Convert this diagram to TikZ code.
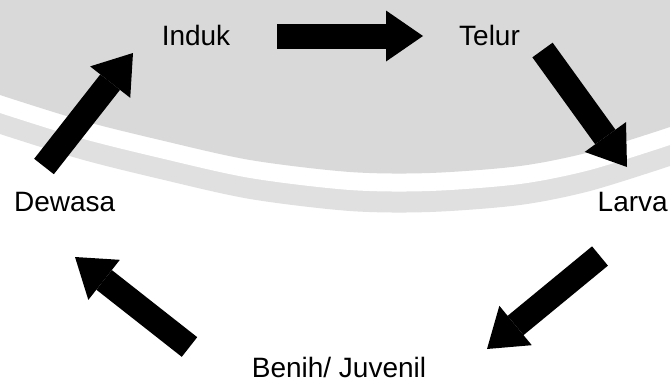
\documentclass[tikz,border=0pt]{standalone}
\usepackage{fontspec}
\setmainfont{Liberation Sans}
\usetikzlibrary{arrows.meta}
\definecolor{bgdark}{RGB}{217,217,217}
\definecolor{bglight}{RGB}{224,224,224}
\begin{document}
\begin{tikzpicture}[x=1pt,y=-1pt,
  lbl/.style={font=\fontsize{28}{32}\selectfont, inner sep=0pt, anchor=base},
  bigarrow/.style={line width=25pt, -{Triangle[width=51pt,length=37pt,line width=0pt]}}]
\useasboundingbox (0,0) rectangle (670,383);
\fill[white] (0,0) rectangle (670,383);
% background bands
\fill[bglight] (0,0) -- plot[smooth] coordinates {(0,134) (80,159) (160,179) (250,199) (350,211) (430,212) (520,205) (590,191) (670,166)} -- (670,0) -- cycle;
\fill[white] (0,0) -- plot[smooth] coordinates {(0,113) (80,138) (160,158) (250,178) (350,190) (430,191) (520,184) (590,170) (670,145)} -- (670,0) -- cycle;
\fill[bgdark] (0,0) -- plot[smooth] coordinates {(0,95) (80,120) (160,140) (250,160) (350,172) (430,173) (520,166) (590,152) (670,127)} -- (670,0) -- cycle;
% labels
\node[lbl] (induk) at (196,45.7) {Induk};
\node[lbl] (telur) at (489.5,45.7) {Telur};
\node[lbl] (larva) at (632.7,211.7) {Larva};
\node[lbl] (benih) at (339,377) {Benih/ Juvenil};
\node[lbl] (dewasa) at (64.7,211.7) {Dewasa};
% arrow ends
\coordinate (a1s) at (277,36);
\coordinate (a1e) at (423,36);
\coordinate (a2s) at (542.5,50);
\coordinate (a2e) at (627,167);
\coordinate (a3s) at (600,256);
\coordinate (a3e) at (487,349);
\coordinate (a4s) at (189.5,347);
\coordinate (a4e) at (75,257);
\coordinate (a5s) at (44,166.5);
\coordinate (a5e) at (133,53);
\draw[bigarrow] (a1s) -- (a1e);
\draw[bigarrow] (a2s) -- (a2e);
\draw[bigarrow] (a3s) -- (a3e);
\draw[bigarrow] (a4s) -- (a4e);
\draw[bigarrow] (a5s) -- (a5e);
\end{tikzpicture}
\end{document}
